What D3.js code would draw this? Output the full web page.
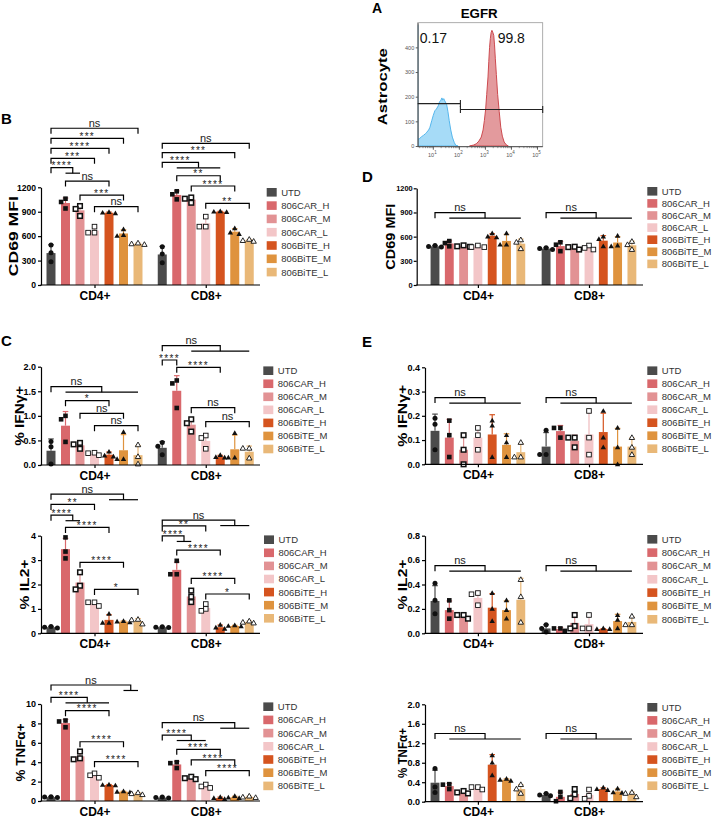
<!DOCTYPE html>
<html><head><meta charset="utf-8">
<script src="https://cdn.jsdelivr.net/npm/d3@7"></script>
<style>
body{margin:0;background:#fff}
svg{display:block}
text{font-family:Arial,"Liberation Sans",sans-serif}
</style>
</head><body>
<svg id="c" width="714" height="818"></svg>
<script>
// ---------------- DATA ----------------
const conditions = ["UTD","806CAR_H","806CAR_M","806CAR_L","806BiTE_H","806BiTE_M","806BiTE_L"];
const colors = ["#4b4b4b","#d9686c","#e29294","#f3c6c8","#d5541f","#df933e","#e9b878"];
const groups = ["CD4+","CD8+"];

// Panel A: EGFR flow histogram (x = log10 fluorescence, y = count)
const blueLog = [0.40,0.40,0.43,0.47,0.55,0.62,0.70,0.75,0.82,0.87,0.94,1.00,1.06,1.12,1.19,1.24,1.28,1.33,1.36,1.40,1.44,1.51,1.56,1.61,1.67,1.73,1.80,1.86,1.95];
const blueCount = [490,25,28,30,38,43,50,56,65,76,103,125,143,150,163,180,183,195,186,192,183,169,140,103,65,36,15,3,0];
const redLog = [2.39,2.55,2.65,2.75,2.84,2.91,2.96,3.01,3.05,3.10,3.13,3.16,3.19,3.22,3.25,3.28,3.32,3.35,3.38,3.42,3.47,3.53,3.59,3.65,3.72,3.80,3.88];
const redCount = [0,4,9,20,36,65,103,150,209,280,343,400,436,460,469,462,449,410,356,290,209,140,76,40,16,5,0];
const gateFrom = [0.40, 2.04];
const gateTo = [2.04, 5.20];
const gateCount = [172, 148];
const gateLabels = ["0.17","99.8"];
const histYTicks = [0,100,200,300,400];
const histXTicks = [1,2,3,4,5];

// Panel B: CD69 MFI (co-culture)
const bMean = [[392,1007,917,668,888,633,505],[375,1106,1048,758,900,655,547]];
const bPts = [
 [[491,397,287],[1060,1020,940],[970,934,848],[717,643,643],[895,888,880],[684,614,602],[515,505,497]],
 [[471,381,274],[1151,1114,1052],[1075,1060,1010],[840,717,717],[905,900,895],[696,643,626],[560,545,536]]];
const bBrackets = [
 [0,0,6,"ns",1925],[0,0,5,"***",1802],[0,0,4,"****",1679],[0,0,3,"***",1556],[0,0,[1,2],"****",1441],
 [0,1,4,"ns",1277],[0,2,5,"***",1105],[0,3,6,"ns",962],
 [1,0,6,"ns",1740],[1,0,5,"***",1625],[1,0,[1,4],"****",1507],[1,1,4,"**",1342],[1,2,5,"****",1216],[1,3,6,"**",1003]];

// Panel D: CD69 MFI (astrocyte)
const dMean = [[480,515,482,477,610,547,513],[452,483,462,463,550,527,493]];
const dPts = [
 [[490,478,472],[545,520,480],[492,480,474],[490,471,470],[640,600,590],[640,500,500],[560,530,450]],
 [[462,452,442],[530,500,420],[475,470,440],[490,460,440],[600,570,480],[610,490,480],[540,500,440]]];
const dBrackets = [[0,0,[1,6],"ns",897],[1,0,[1,6],"ns",897]];

// Panel C: % IFNg+, % IL2+, % TNFa+
const cIfnMean = [[0.29,0.80,0.40,0.23,0.21,0.30,0.20],[0.35,1.51,0.82,0.49,0.17,0.32,0.27]];
const cIfnPts = [
 [[0.48,0.37,0.02],[1.0,0.93,0.47],[0.45,0.42,0.33],[0.25,0.24,0.20],[0.27,0.19,0.17],[0.67,0.12,0.12],[0.41,0.17,0.02]],
 [[0.46,0.38,0.21],[1.72,1.66,1.16],[0.93,0.85,0.68],[0.60,0.55,0.33],[0.20,0.16,0.15],[0.65,0.15,0.15],[0.34,0.34,0.14]]];
const cIfnBrackets = [
 [0,0,[1,6],"ns",1.593],[0,1,4,"*",1.308],[0,2,5,"ns",1.052],[0,3,6,"ns",0.80],
 [1,0,[2,6],"ns",2.427],[1,0,1,"****",2.136],[1,1,4,"****",1.988],[1,2,5,"ns",1.166],[1,3,6,"ns",0.881]];

const cIl2Mean = [[0.25,3.45,2.08,1.22,0.55,0.48,0.50],[0.25,2.60,1.51,1.04,0.25,0.30,0.46]];
const cIl2Pts = [
 [[0.28,0.25,0.22],[3.93,3.35,3.07],[2.50,1.95,1.80],[1.27,1.27,1.12],[0.80,0.43,0.43],[0.50,0.48,0.45],[0.57,0.55,0.38]],
 [[0.27,0.25,0.24],[2.97,2.42,2.42],[1.75,1.50,1.28],[1.20,1.00,0.92],[0.35,0.23,0.18],[0.33,0.30,0.28],[0.50,0.45,0.42]]];
const cIl2Brackets = [
 [0,0,[4,6],"ns",5.70],[0,0,3,"**",5.28],[0,0,[1,2],"****",4.84],[0,1,4,"****",4.34],[0,2,5,"****",2.91],[0,3,6,"*",1.80],
 [1,0,[4,6],"ns",4.64],[1,0,3,"**",4.40],[1,0,[1,2],"****",3.99],[1,1,4,"****",3.41],[1,2,5,"****",2.25],[1,3,6,"*",1.61]];

const cTnfMean = [[0.40,8.03,4.60,2.63,1.65,0.95,0.75],[0.35,3.77,2.37,1.52,0.30,0.38,0.42]];
const cTnfPts = [
 [[0.45,0.40,0.35],[8.30,8.20,7.60],[5.10,4.40,4.30],[2.85,2.65,2.40],[1.70,1.65,1.60],[1.00,0.95,0.90],[0.85,0.75,0.65]],
 [[0.40,0.35,0.30],[4.00,3.90,3.40],[2.50,2.35,2.25],[1.70,1.50,1.35],[0.40,0.30,0.20],[0.50,0.35,0.30],[0.50,0.40,0.35]]];
const cTnfBrackets = [
 [0,0,[5,6],"ns",11.96],[0,0,[1,4],"****",10.69],[0,1,4,"****",9.31],[0,2,5,"****",6.11],[0,3,6,"****",4.05],
 [1,0,[4,6],"ns",8.07],[1,0,[1,3],"****",6.80],[1,1,4,"****",5.33],[1,2,5,"****",4.23],[1,3,6,"****",3.13]];

// Panel E: % IFNg+, % IL2+, % TNFa+ (astrocyte)
const eIfnMean = [[0.138,0.110,0.060,0.110,0.123,0.080,0.050],[0.073,0.137,0.097,0.123,0.133,0.073,0.073]];
const eIfnPts = [
 [[0.19,0.165,0.06],[0.18,0.12,0.03],[0.12,0.06,0.0],[0.15,0.12,0.06],[0.18,0.16,0.03],[0.12,0.09,0.03],[0.09,0.03,0.03]],
 [[0.14,0.04,0.04],[0.15,0.15,0.11],[0.11,0.11,0.07],[0.22,0.11,0.04],[0.22,0.11,0.07],[0.15,0.07,0.0],[0.11,0.07,0.04]]];
const eIfnBrackets = [[0,0,[1,6],"ns",0.275],[1,0,[1,6],"ns",0.275]];

const eIl2Mean = [[0.265,0.19,0.14,0.29,0.21,0.19,0.275],[0.04,0.035,0.085,0.075,0.035,0.10,0.093]];
const eIl2Pts = [
 [[0.41,0.27,0.16],[0.27,0.19,0.12],[0.15,0.15,0.12],[0.33,0.32,0.23],[0.33,0.20,0.10],[0.27,0.19,0.12],[0.44,0.30,0.09]],
 [[0.07,0.04,0.01],[0.04,0.04,0.02],[0.15,0.06,0.04],[0.15,0.04,0.04],[0.04,0.035,0.035],[0.15,0.11,0.04],[0.14,0.07,0.07]]];
const eIl2Brackets = [[0,0,[1,6],"ns",0.554],[1,0,[1,6],"ns",0.554]];

const eTnfMean = [[0.39,0.32,0.19,0.28,0.76,0.45,0.26],[0.14,0.10,0.16,0.14,0.26,0.21,0.15]];
const eTnfPts = [
 [[0.68,0.30,0.19],[0.36,0.35,0.26],[0.22,0.19,0.17],[0.30,0.30,0.25],[0.95,0.80,0.54],[0.47,0.45,0.43],[0.35,0.26,0.17]],
 [[0.17,0.14,0.12],[0.20,0.10,0.01],[0.26,0.15,0.07],[0.25,0.12,0.06],[0.29,0.26,0.24],[0.27,0.19,0.18],[0.19,0.17,0.10]]];
const eTnfBrackets = [[0,0,[1,6],"ns",1.40],[1,0,[1,6],"ns",1.40]];

// ---------------- DRAWING ----------------
const FONT = 'Arial, "Liberation Sans", sans-serif';
const svg = d3.select("#c");

function marker(g, k, x, y) {
  const s = 4.6;
  if (k === 0) {
    g.append("circle").attr("cx", x).attr("cy", y).attr("r", 2.5).attr("fill", "#111");
  } else if (k >= 1 && k <= 3) {
    const r = g.append("rect").attr("x", x - s/2).attr("y", y - s/2).attr("width", s).attr("height", s);
    if (k === 1) r.attr("fill", "#111");
    else if (k === 2) r.attr("fill", "#fff").attr("stroke", "#111").attr("stroke-width", 1.5);
    else r.attr("fill", "#fff").attr("stroke", "#111").attr("stroke-width", 0.9);
  } else {
    const t = 5.4, h = t * 0.87;
    const p = g.append("path").attr("d", `M${x},${y - h*0.6}L${x + t/2},${y + h*0.4}L${x - t/2},${y + h*0.4}Z`);
    if (k === 6) p.attr("fill", "#fff").attr("stroke", "#111").attr("stroke-width", 0.9);
    else p.attr("fill", "#111");
  }
}

function swarm(ys) {
  const placed = [];
  const cand = [0, -4.4, 4.4, -2.4, 2.4, -6.4, 6.4];
  ys.forEach(yy => {
    for (const dx of cand) {
      if (placed.every(p => Math.hypot(p.dx - dx, p.y - yy) >= 4.8)) { placed.push({dx, y: yy}); return; }
    }
    placed.push({dx: 0, y: yy});
  });
  return placed;
}

function panel(cfg, means, pts, brackets) {
  const g = svg.append("g");
  const y = d3.scaleLinear().domain([0, cfg.max]).range([cfg.y0, cfg.y1]);
  const outer = d3.scalePoint().domain(groups).range([cfg.c1, cfg.c2]);
  const inner = d3.scaleBand().domain(conditions)
    .range([-3.5 * cfg.step, 3.5 * cfg.step]).paddingInner(0.38).paddingOuter(0.19);
  const bw = inner.bandwidth();
  const cx = (gi, k) => outer(groups[gi]) + inner(conditions[k]) + bw / 2;

  // bars + error bars
  groups.forEach((gn, gi) => {
    conditions.forEach((c, k) => {
      const m = means[gi][k];
      g.append("rect").attr("x", cx(gi, k) - bw/2).attr("width", bw)
        .attr("y", y(m)).attr("height", y(0) - y(m)).attr("fill", colors[k]);
      const sd = d3.deviation(pts[gi][k]);
      const ec = k === 3 ? "#eebabd" : colors[k];
      g.append("line").attr("x1", cx(gi, k)).attr("x2", cx(gi, k))
        .attr("y1", y(m)).attr("y2", y(m + sd)).attr("stroke", ec).attr("stroke-width", 1.2);
      g.append("line").attr("x1", cx(gi, k) - 2.8).attr("x2", cx(gi, k) + 2.8)
        .attr("y1", y(m + sd)).attr("y2", y(m + sd)).attr("stroke", ec).attr("stroke-width", 1.2);
    });
  });
  // points
  groups.forEach((gn, gi) => {
    conditions.forEach((c, k) => {
      const sw = swarm(pts[gi][k].map(v => y(v)));
      sw.forEach(p => marker(g, k, cx(gi, k) + p.dx, p.y));
    });
  });

  // y axis
  const ay = g.append("g").attr("transform", `translate(${cfg.axisX},0)`)
    .call(d3.axisLeft(y).tickValues(cfg.ticks).tickFormat(d3.format(cfg.fmt))
      .tickSize(3).tickSizeOuter(0).tickPadding(cfg.tickPad || 2));
  ay.attr("font-family", FONT).attr("font-size", cfg.tickFont || 9).attr("font-weight", "bold");
  ay.selectAll("text").attr("fill", "#000");
  ay.selectAll("line,path").attr("stroke", "#000").attr("stroke-width", 1.2);

  // x axis
  const axx = g.append("g").attr("transform", `translate(0,${cfg.y0})`)
    .call(d3.axisBottom(outer).tickSize(3).tickSizeOuter(0).tickPadding(3));
  axx.select(".domain").remove();
  axx.attr("font-family", FONT).attr("font-size", 12).attr("font-weight", "bold");
  axx.selectAll("text").attr("fill", "#000");
  axx.selectAll("line").attr("stroke", "#000").attr("stroke-width", 1.2);
  g.append("line").attr("x1", cfg.axisX - 0.6).attr("x2", cfg.xEnd).attr("y1", cfg.y0).attr("y2", cfg.y0)
    .attr("stroke", "#000").attr("stroke-width", 1.2);

  // y title
  g.append("text")
    .attr("transform", `translate(${cfg.titleX},${(cfg.y0 + cfg.y1) / 2}) rotate(-90)`)
    .attr("text-anchor", "middle").attr("dominant-baseline", "central")
    .attr("font-size", cfg.titleFont || 13).attr("font-weight", "bold")
    .attr("textLength", cfg.titleLen).attr("lengthAdjust", "spacingAndGlyphs")
    .text(cfg.title);

  // brackets
  const tick = 5.5;
  brackets.forEach(([gi, a, b, label, v]) => {
    const yy = y(v);
    const x1 = cx(gi, a);
    let x2;
    if (Array.isArray(b)) {
      const gl = cx(gi, b[0]), gr = cx(gi, b[1]);
      x2 = (gl + gr) / 2;
      g.append("line").attr("x1", gl).attr("x2", gr).attr("y1", yy + tick).attr("y2", yy + tick)
        .attr("stroke", "#000").attr("stroke-width", 1.2);
    } else x2 = cx(gi, b);
    g.append("path").attr("d", `M${x1},${yy + tick}V${yy}H${x2}V${yy + tick}`)
      .attr("fill", "none").attr("stroke", "#000").attr("stroke-width", 1.2);
    const star = label.indexOf("*") >= 0;
    g.append("text").attr("x", (x1 + x2) / 2).attr("y", star ? yy + 1.6 : yy - 1.3)
      .attr("text-anchor", "middle").attr("font-size", star ? 10 : 11)
      .attr("letter-spacing", star ? 1.3 : 0)
      .attr("fill", "#222").text(label);
  });

  // legend
  conditions.forEach((c, k) => {
    const ly = cfg.ly + k * cfg.lstep;
    g.append("rect").attr("x", cfg.lx).attr("y", ly - 4.3).attr("width", 10).attr("height", 8.6).attr("fill", colors[k]);
    g.append("text").attr("x", cfg.lx + 14.5).attr("y", ly + 3.4).attr("font-size", 9.5)
      .attr("fill", "#333").text(c);
  });
}

const L = {axisX: 41, xEnd: 260, c1: 94.5, c2: 205.75, step: 14.5};
const R = {xEnd: 643, c1: 477.9, c2: 589, step: 14.3};

panel(Object.assign({}, L, {y0: 285, y1: 187.3, max: 1200, ticks: [0,300,600,900,1200], fmt: "d", tickFont: 8.6,
  title: "CD69 MFI", titleX: 13, titleLen: 80, lx: 266.7, ly: 192.3, lstep: 13.3}), bMean, bPts, bBrackets);
panel(Object.assign({}, R, {axisX: 416.7, y0: 285, y1: 188.3, max: 1200, ticks: [0,300,600,900,1200], fmt: "d",
  tickFont: 7.4, tickPad: 1, titleFont: 12,
  title: "CD69 MFI", titleX: 391, titleLen: 66, lx: 647.3, ly: 191.3, lstep: 12.1}), dMean, dPts, dBrackets);

panel(Object.assign({}, L, {y0: 465, y1: 366.7, max: 2, ticks: [0,0.5,1,1.5,2], fmt: ".1f",
  title: "% IFNγ+", titleX: 19, titleLen: 60, lx: 263.3, ly: 370.7, lstep: 13.05}), cIfnMean, cIfnPts, cIfnBrackets);
panel(Object.assign({}, L, {y0: 633.3, y1: 535.7, max: 4, ticks: [0,1,2,3,4], fmt: "d",
  title: "% IL2+", titleX: 24, titleLen: 50, lx: 264, ly: 539.7, lstep: 13.1}), cIl2Mean, cIl2Pts, cIl2Brackets);
panel(Object.assign({}, L, {y0: 801, y1: 704, max: 10, ticks: [0,2,4,6,8,10], fmt: "d",
  title: "% TNFα+", titleX: 20, titleLen: 58, lx: 263.3, ly: 706.7, lstep: 13.2}), cTnfMean, cTnfPts, cTnfBrackets);

panel(Object.assign({}, R, {axisX: 425, y0: 464.3, y1: 367.3, max: 0.4, ticks: [0,0.1,0.2,0.3,0.4], fmt: ".1f",
  title: "% IFNγ+", titleX: 402, titleLen: 62, lx: 647.3, ly: 370.7, lstep: 13}), eIfnMean, eIfnPts, eIfnBrackets);
panel(Object.assign({}, R, {axisX: 425, y0: 633.3, y1: 535.7, max: 0.8, ticks: [0,0.2,0.4,0.6,0.8], fmt: ".1f",
  title: "% IL2+", titleX: 402, titleLen: 50, lx: 647.3, ly: 539.3, lstep: 13.33}), eIl2Mean, eIl2Pts, eIl2Brackets);
panel(Object.assign({}, R, {axisX: 425, y0: 801.7, y1: 704.3, max: 2.0, ticks: [0,0.4,0.8,1.2,1.6,2.0], fmt: ".1f",
  title: "% TNFα+", titleX: 402, titleLen: 50, lx: 647.3, ly: 707.3, lstep: 13.07}), eTnfMean, eTnfPts, eTnfBrackets);

// ---------- Panel A ----------
(function () {
  const g = svg.append("g");
  const x = d3.scaleLog().domain([Math.pow(10, 0.4), Math.pow(10, 5.2)]).range([417.7, 542.7]);
  const y = d3.scaleLinear().domain([0, 500]).range([146, 22.7]);
  g.append("clipPath").attr("id", "aclip").append("rect").attr("x", 417.7).attr("y", 22.7).attr("width", 125).attr("height", 124);
  const area = d3.area().x(d => x(Math.pow(10, d[0]))).y0(y(0)).y1(d => y(d[1]));
  g.append("path").datum(d3.zip(blueLog, blueCount)).attr("d", area)
    .attr("fill", "#a6dbf7").attr("stroke", "#55b6ec").attr("stroke-width", 1).attr("clip-path", "url(#aclip)");
  g.append("path").datum(d3.zip(redLog, redCount)).attr("d", area)
    .attr("fill", "#e39a9d").attr("stroke", "#cc4a4f").attr("stroke-width", 1).attr("clip-path", "url(#aclip)");
  // frame
  g.append("rect").attr("x", 417.7).attr("y", 22.7).attr("width", 125).attr("height", 124)
    .attr("fill", "none").attr("stroke", "#999").attr("stroke-width", 0.8);
  // y axis
  const ay = g.append("g").attr("transform", "translate(417.7,0)")
    .call(d3.axisLeft(y).tickValues(histYTicks).tickSize(2).tickSizeOuter(0).tickPadding(1.5));
  ay.attr("font-family", FONT).attr("font-size", 5.5);
  ay.selectAll("text").attr("fill", "#555");
  ay.selectAll("line,path").attr("stroke", "#333").attr("stroke-width", 0.8);
  // x axis (log decades)
  const bx = g.append("g").attr("transform", "translate(0,146.7)");
  const minor = [];
  for (let d = 0; d <= 5; d++) for (let m = 2; m <= 9; m++) minor.push(m * Math.pow(10, d));
  minor.filter(v => v >= x.domain()[0] && v <= x.domain()[1]).forEach(v => {
    bx.append("line").attr("x1", x(v)).attr("x2", x(v)).attr("y1", 0).attr("y2", 1.5).attr("stroke", "#444").attr("stroke-width", 0.5);
  });
  histXTicks.forEach(e => {
    const xv = x(Math.pow(10, e));
    bx.append("line").attr("x1", xv).attr("x2", xv).attr("y1", 0).attr("y2", 3).attr("stroke", "#333").attr("stroke-width", 0.8);
    const t = bx.append("text").attr("x", xv - 1).attr("y", 10).attr("text-anchor", "middle")
      .attr("font-size", 5.5).attr("fill", "#555");
    t.append("tspan").text("10");
    t.append("tspan").attr("dy", -3).attr("font-size", 4.5).text(e);
  });
  g.append("line").attr("x1", 417.7).attr("x2", 542.7).attr("y1", 146.7).attr("y2", 146.7).attr("stroke", "#333").attr("stroke-width", 0.8);
  // gates
  gateFrom.forEach((f, i) => {
    const x1 = x(Math.pow(10, f)), x2 = x(Math.pow(10, gateTo[i])), yy = y(gateCount[i]);
    g.append("line").attr("x1", x1).attr("x2", x2).attr("y1", yy).attr("y2", yy).attr("stroke", "#222").attr("stroke-width", 1.1);
    [x1, x2].forEach((xx, j) => {
      if (i === 0 && j === 0) return;
      g.append("line").attr("x1", xx).attr("x2", xx).attr("y1", yy - 3.5).attr("y2", yy + 3.5).attr("stroke", "#222").attr("stroke-width", 1.1);
    });
  });
  g.append("text").attr("x", x(Math.pow(10, 0.48))).attr("y", 43.3).attr("font-size", 14).attr("fill", "#111").text(gateLabels[0]);
  g.append("text").attr("x", x(Math.pow(10, 3.47))).attr("y", 43.3).attr("font-size", 14).attr("fill", "#111").text(gateLabels[1]);
  g.append("text").attr("x", 479.2).attr("y", 18.3).attr("text-anchor", "middle").attr("font-size", 13.3).attr("font-weight", "bold").text("EGFR");
  g.append("text").attr("transform", "translate(382.7,86.7) rotate(-90)").attr("text-anchor", "middle")
    .attr("dominant-baseline", "central").attr("font-size", 13.5).attr("font-weight", "bold")
    .attr("textLength", 77).attr("lengthAdjust", "spacingAndGlyphs").text("Astrocyte");
})();

// panel letters
[["A", 372, 12.5, 14], ["B", 1, 123.5, 15], ["C", 1, 346, 15], ["D", 362, 181.7, 15], ["E", 362, 346.7, 15]].forEach(([t, px, py, fs]) => {
  svg.append("text").attr("x", px).attr("y", py).attr("font-size", fs).attr("font-weight", "bold").text(t);
});
</script>
</body></html>
